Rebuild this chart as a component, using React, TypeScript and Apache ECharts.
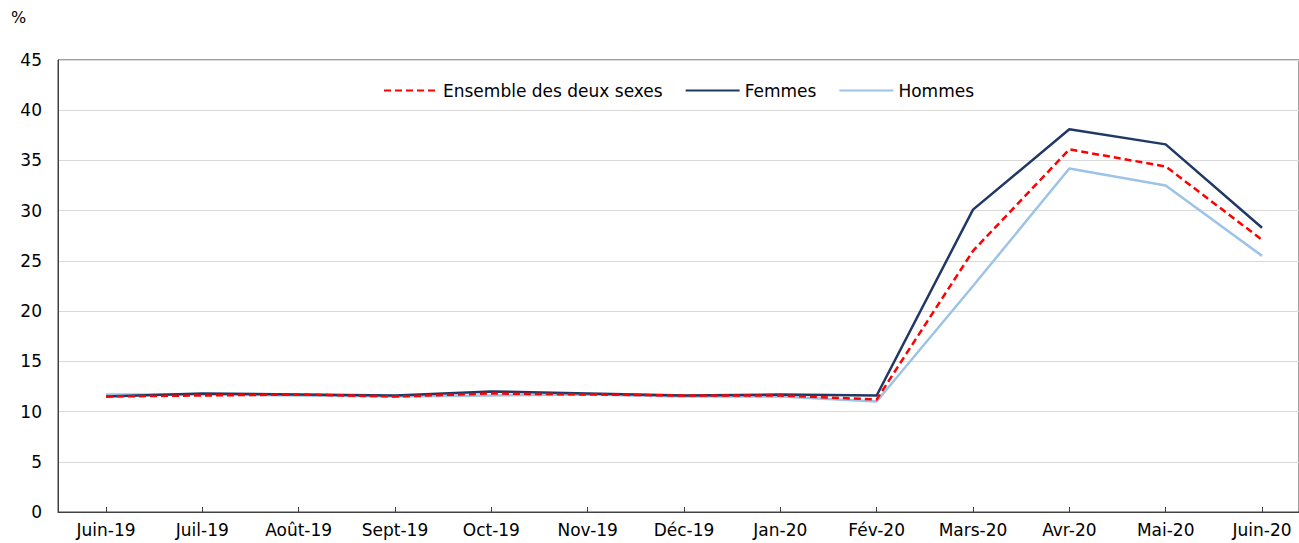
import React, { useEffect, useRef } from "react";
import * as echarts from "echarts";

const categories = ["Juin-19", "Juil-19", "Août-19", "Sept-19", "Oct-19", "Nov-19", "Déc-19", "Jan-20", "Fév-20", "Mars-20", "Avr-20", "Mai-20", "Juin-20"];
const ensemble = [11.5, 11.6, 11.7, 11.5, 11.8, 11.7, 11.6, 11.6, 11.2, 26.0, 36.1, 34.4, 27.1];
const femmes = [11.5, 11.8, 11.7, 11.6, 12.0, 11.8, 11.6, 11.7, 11.6, 30.1, 38.1, 36.6, 28.3];
const hommes = [11.7, 11.7, 11.6, 11.5, 11.6, 11.7, 11.5, 11.5, 11.0, 22.5, 34.2, 32.5, 25.5];
const yMin = 0;
const yMax = 45;
const yStep = 5;

const FONT = "Verdana, 'DejaVu Sans', sans-serif";
const FS = 17;

export default function App() {
  const ref = useRef<HTMLDivElement>(null);
  useEffect(() => {
    if (!ref.current) return;
    const chart = echarts.init(ref.current, null, { renderer: "svg" });
    chart.setOption({
      animation: false,
      backgroundColor: "#ffffff",
      textStyle: { fontFamily: FONT },
      graphic: [
        { type: "text", left: 11, top: 9, style: { text: "%", fontFamily: FONT, fontSize: FS - 1, fill: "#000" } },
      ],
      legend: {
        top: 77,
        left: 378,
        itemWidth: 54,
        itemHeight: 14,
        itemGap: 22,
        itemStyle: { opacity: 0 },
        textStyle: { fontFamily: FONT, fontSize: FS, color: "#000" },
        data: ["Ensemble des deux sexes", "Femmes", "Hommes"],
      },
      grid: [
        { left: 58, right: -3, top: 60, bottom: 31, show: true, borderColor: "#404040", borderWidth: 1, backgroundColor: "transparent" },
        { left: 106, right: 37, top: 60, bottom: 31 },
      ],
      xAxis: [
        {
          gridIndex: 0, type: "category", data: categories, boundaryGap: false,
          axisLine: { show: true, lineStyle: { color: "#404040", width: 1 } },
          axisTick: { show: false }, axisLabel: { show: false }, splitLine: { show: false },
        },
        {
          gridIndex: 1, type: "category", data: categories, boundaryGap: false,
          axisLine: { show: false },
          axisTick: { show: true, inside: true, length: 5, alignWithLabel: true, lineStyle: { color: "#404040" } },
          axisLabel: { fontFamily: FONT, fontSize: FS, color: "#000", margin: 9, interval: 0 },
          splitLine: { show: false },
        },
      ],
      yAxis: [
        {
          gridIndex: 0, type: "value", min: yMin, max: yMax, interval: yStep,
          axisLine: { show: true, lineStyle: { color: "#404040", width: 1 } },
          axisTick: { show: false },
          axisLabel: { fontFamily: FONT, fontSize: FS, color: "#000", margin: 16 },
          splitLine: { show: true, lineStyle: { color: "#d9d9d9", width: 1 } },
        },
        {
          gridIndex: 1, type: "value", min: yMin, max: yMax, interval: yStep,
          show: false,
        },
      ],
      series: [
        {
          name: "Ensemble des deux sexes", type: "line", xAxisIndex: 1, yAxisIndex: 1, data: ensemble,
          symbol: "none", z: 4, color: "#ff0000",
          lineStyle: { color: "#ff0000", width: 2.5, type: [7, 4] },
        },
        {
          name: "Femmes", type: "line", xAxisIndex: 1, yAxisIndex: 1, data: femmes,
          symbol: "none", z: 3, color: "#203864",
          lineStyle: { color: "#203864", width: 2.5 },
        },
        {
          name: "Hommes", type: "line", xAxisIndex: 1, yAxisIndex: 1, data: hommes,
          symbol: "none", z: 2, color: "#9dc3e6",
          lineStyle: { color: "#9dc3e6", width: 2.5 },
        },
      ],
    });
    return () => chart.dispose();
  }, []);
  return <div ref={ref} style={{ position: "fixed", left: 0, top: 0, width: 1299, height: 543 }} />;
}
